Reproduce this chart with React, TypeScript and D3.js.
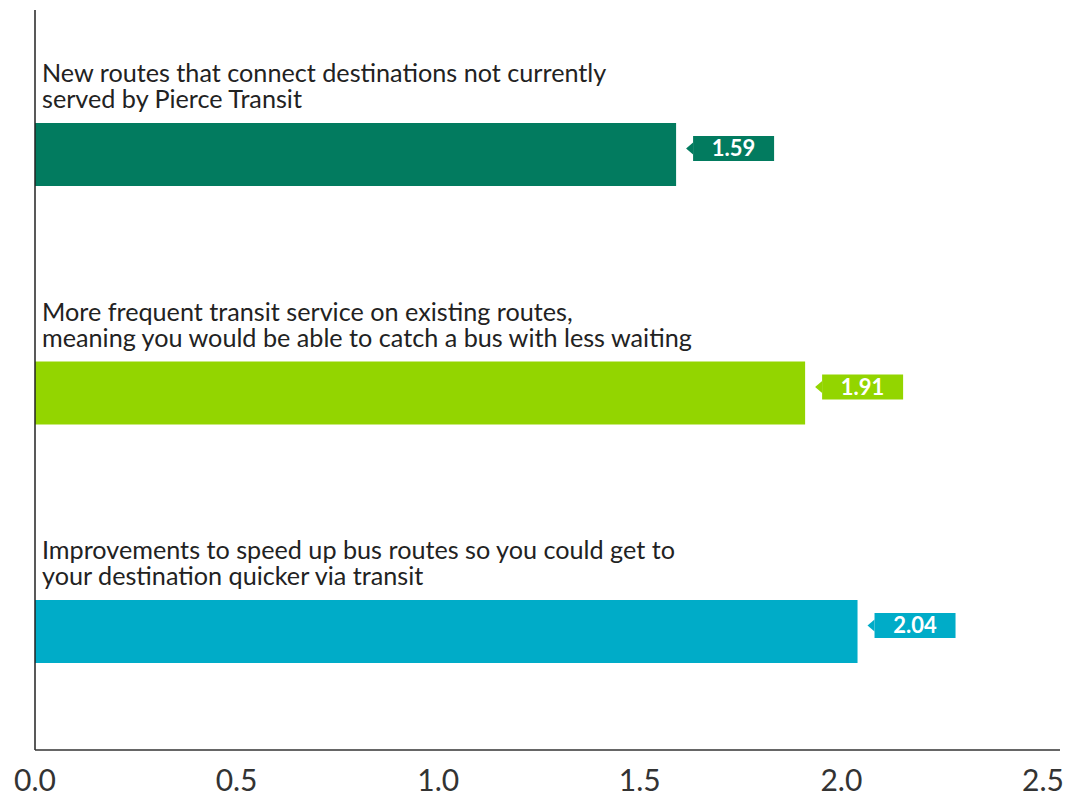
import React from "react";
import * as d3 from "d3";

const categories: string[][] = [
  ["New routes that connect destinations not currently", "served by Pierce Transit"],
  ["More frequent transit service on existing routes,", "meaning you would be able to catch a bus with less waiting"],
  ["Improvements to speed up bus routes so you could get to", "your destination quicker via transit"],
];
const values: number[] = [1.59, 1.91, 2.04];
const colors: string[] = ["#027b5f", "#93d500", "#00acc8"];
const tickValues: number[] = [0, 0.5, 1.0, 1.5, 2.0, 2.5];

const W = 1069;
const H = 797;

export default function App() {
  const x = d3.scaleLinear().domain([0, 2.5]).range([35, 1043]);
  const band = d3
    .scaleBand<number>()
    .domain(categories.map((_, i) => i))
    .range([40, 40 + 238.5 * 3])
    .paddingInner(0)
    .paddingOuter(0);
  const barOffset = 83;
  const barH = 63;
  const boxW = 81;
  const boxH = 25;
  const font = "Lato, 'Noto Sans', sans-serif";

  return (
    <svg
      width={W}
      height={H}
      style={{ position: "absolute", left: 0, top: 0, background: "#fff" }}
      fontFamily={font}
    >
      {categories.map((lines, i) => {
        const y0 = band(i)!;
        const v = values[i];
        const barTop = y0 + barOffset;
        const cy = barTop + barH / 2 - 6;
        const bx = x(v) + 17;
        const arrowPath = `M${bx},${cy - 6} L${bx - 7},${cy} L${bx},${cy + 6} Z`;
        return (
          <g key={i}>
            <text x={42} y={y0 + 42} fontSize={25.2} fill="#222">
              {lines.map((ln, j) => (
                <tspan key={j} x={42} dy={j === 0 ? 0 : 26}>
                  {ln}
                </tspan>
              ))}
            </text>
            <rect x={x(0)} y={barTop} width={x(v) - x(0)} height={barH} fill={colors[i]} />
            <rect x={bx} y={cy - boxH / 2} width={boxW} height={boxH} fill={colors[i]} />
            <path d={arrowPath} fill={colors[i]} />
            <text
              x={bx + boxW / 2}
              y={cy + 7.5}
              textAnchor="middle"
              fontSize={22}
              fontWeight="bold"
              fill="#fff"
            >
              {v.toFixed(2)}
            </text>
          </g>
        );
      })}
      <line x1={x(0)} x2={x(0)} y1={10} y2={750} stroke="#222" strokeWidth={1.5} />
      <line x1={x(0)} x2={1060} y1={750} y2={750} stroke="#333" strokeWidth={1.5} />
      {tickValues.map((t) => (
        <text key={t} x={x(t)} y={791} textAnchor="middle" fontSize={30} fill="#333">
          {t.toFixed(1)}
        </text>
      ))}
    </svg>
  );
}
